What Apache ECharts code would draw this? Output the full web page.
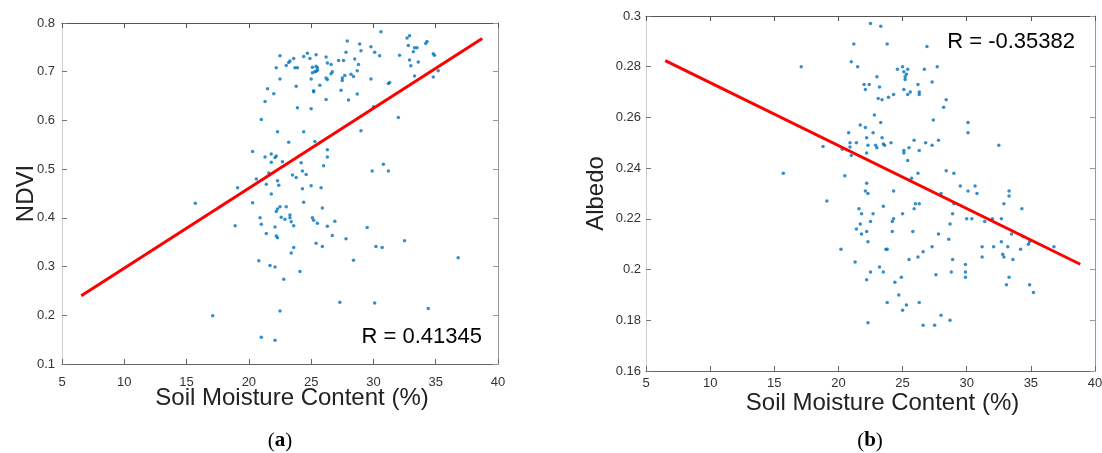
<!DOCTYPE html>
<html>
<head>
<meta charset="utf-8">
<title>Soil moisture vs NDVI / Albedo</title>
<script src="https://cdn.jsdelivr.net/npm/echarts@6/dist/echarts.min.js"></script>
<style>
  html, body { margin: 0; padding: 0; background: #fff; }
  #chart { width: 1102px; height: 453px; }
</style>
</head>
<body>
<div id="chart"></div>
<script>
// axis ranges [min, max, interval]
const soilRange = [5, 40, 5];
const ndviRange = [0.1, 0.8, 0.1];
const albedoRange = [0.16, 0.30, 0.02];

// (a) soil moisture (%) vs NDVI
const ndviPoints = [
  [22.5,0.733],[23.6,0.727],[23.3,0.722],[23.2,0.719],[23.0,0.713],[22.2,0.708],[23.7,0.708],[23.9,0.708],
  [24.4,0.731],[24.7,0.738],[24.9,0.727],[25.4,0.735],[26.2,0.730],[26.3,0.718],[26.6,0.715],[27.2,0.723],
  [25.1,0.709],[25.4,0.711],[25.5,0.708],[25.5,0.703],[25.3,0.700],[25.1,0.698],[25.4,0.701],[26.7,0.700],
  [26.6,0.696],[22.5,0.685],[25.0,0.685],[26.2,0.687],[26.3,0.684],[23.8,0.670],[25.7,0.672],[25.2,0.661],
  [25.2,0.659],[21.5,0.665],[22.0,0.655],[21.3,0.639],[26.2,0.643],[23.9,0.626],[25.0,0.624],[21.0,0.602],
  [22.3,0.577],[24.4,0.577],[23.2,0.555],[25.3,0.557],[26.3,0.540],[26.3,0.525],[20.3,0.536],[21.8,0.531],
  [21.3,0.525],[22.2,0.527],[22.1,0.524],[21.8,0.514],[22.7,0.515],[24.2,0.513],[26.0,0.507],[24.3,0.496],
  [24.6,0.489],[23.5,0.488],[23.8,0.483],[21.6,0.492],[20.6,0.480],[22.3,0.476],[21.4,0.469],[22.4,0.467],
  [25.0,0.466],[25.8,0.462],[24.3,0.460],[19.1,0.462],[21.8,0.449],[15.7,0.430],[20.3,0.431],[24.4,0.432],
  [22.5,0.423],[23.0,0.423],[22.3,0.418],[22.2,0.413],[25.9,0.420],[20.9,0.400],[22.6,0.401],[22.9,0.397],
  [23.3,0.406],[23.3,0.400],[23.4,0.392],[23.6,0.384],[25.1,0.400],[25.2,0.395],[25.5,0.389],[26.9,0.393],
  [26.3,0.383],[18.9,0.384],[21.0,0.387],[22.1,0.381],[21.4,0.368],[22.2,0.363],[22.3,0.359],[26.7,0.364],
  [25.4,0.348],[25.9,0.341],[23.6,0.339],[23.4,0.328],[20.8,0.312],[21.7,0.302],[22.1,0.299],[24.1,0.290],
  [22.8,0.274],[27.3,0.227],[22.5,0.209],[17.1,0.199],[21.0,0.155],[22.1,0.149],
  [30.6,0.782],[32.9,0.774],[32.7,0.769],[27.9,0.763],[28.9,0.757],[29.8,0.751],[32.8,0.754],[33.3,0.749],
  [33.5,0.749],[34.3,0.762],[34.2,0.758],[27.8,0.740],[29.0,0.743],[30.1,0.740],[30.5,0.733],[32.1,0.734],
  [33.2,0.741],[34.8,0.737],[34.9,0.734],[27.6,0.723],[28.5,0.726],[28.8,0.715],[28.7,0.702],[28.2,0.695],
  [28.4,0.690],[27.7,0.692],[27.5,0.687],[27.5,0.682],[29.8,0.685],[31.3,0.678],[31.2,0.676],[33.3,0.691],
  [32.9,0.724],[33.0,0.712],[33.6,0.720],[34.8,0.689],[35.2,0.702],[27.4,0.662],[28.0,0.642],[28.7,0.654],
  [30.0,0.628],[32.0,0.606],[29.0,0.579],[30.8,0.510],[29.9,0.496],[31.2,0.496],[29.5,0.380],[27.8,0.357],
  [30.2,0.341],[30.7,0.339],[32.5,0.353],[28.4,0.313],[36.8,0.318],[30.1,0.225],[34.4,0.214]
];
const ndviFit = [[6.55, 0.240], [38.73, 0.768]];
const ndviR = 'R = 0.41345';

// (b) soil moisture (%) vs albedo
const albedoPoints = [
  [22.5,0.297],[23.3,0.296],[21.2,0.289],[23.8,0.289],[17.1,0.280],[21.0,0.282],[21.5,0.280],[23.0,0.276],
  [22.0,0.273],[22.4,0.273],[22.1,0.271],[23.2,0.272],[23.9,0.268],[23.1,0.2675],[23.4,0.267],[22.8,0.261],
  [23.3,0.258],[21.7,0.257],[22.1,0.256],[20.8,0.254],[22.7,0.254],[22.2,0.252],[23.4,0.252],[20.9,0.250],
  [21.4,0.250],[22.3,0.249],[23.5,0.2495],[22.9,0.249],[23.6,0.249],[23.0,0.248],[18.8,0.2485],[20.3,0.2475],
  [20.9,0.2483],[22.2,0.246],[21.0,0.245],[15.7,0.238],[20.5,0.237],[22.2,0.234],[22.1,0.231],[22.3,0.230],
  [19.1,0.227],[21.6,0.224],[23.5,0.225],[21.8,0.222],[22.7,0.222],[22.5,0.219],[21.7,0.218],[21.4,0.216],
  [22.2,0.215],[21.8,0.214],[22.3,0.211],[23.7,0.208],[23.8,0.208],[20.2,0.208],[21.3,0.203],[23.2,0.201],
  [22.5,0.199],[23.5,0.199],[22.2,0.196],[23.8,0.187],[22.3,0.179],
  [26.9,0.288],[24.6,0.279],[25.0,0.280],[25.1,0.278],[25.4,0.279],[25.3,0.277],[25.2,0.276],[25.2,0.275],
  [26.7,0.279],[27.7,0.280],[24.3,0.269],[25.1,0.271],[25.4,0.269],[25.6,0.270],[26.2,0.273],[26.3,0.270],
  [26.3,0.269],[27.3,0.274],[28.4,0.267],[28.2,0.264],[27.4,0.259],[30.1,0.258],[30.1,0.254],[24.1,0.250],
  [25.9,0.251],[25.5,0.248],[25.1,0.247],[25.1,0.246],[26.3,0.247],[26.8,0.250],[27.3,0.249],[27.8,0.251],
  [32.5,0.249],[25.4,0.243],[24.3,0.231],[25.7,0.236],[26.2,0.238],[28.4,0.239],[29.0,0.238],[29.5,0.233],
  [30.65,0.233],[30.1,0.231],[30.8,0.230],[28.0,0.230],[33.3,0.231],[33.3,0.229],[32.9,0.226],[34.3,0.224],
  [26.0,0.226],[25.9,0.224],[26.3,0.226],[29.0,0.226],[28.9,0.222],[25.0,0.222],[24.3,0.220],[24.2,0.219],
  [30.0,0.220],[30.4,0.220],[31.4,0.219],[32.0,0.220],[32.7,0.220],[28.7,0.218],[25.8,0.215],[24.2,0.215],
  [27.8,0.214],[28.6,0.212],[33.5,0.214],[34.4,0.213],[34.9,0.211],[34.8,0.210],[32.7,0.211],[33.2,0.209],
  [34.2,0.208],[32.1,0.209],[31.2,0.209],[27.3,0.209],[26.6,0.207],[26.2,0.205],[25.5,0.204],[32.8,0.206],
  [32.9,0.205],[33.6,0.204],[31.2,0.205],[28.9,0.204],[29.9,0.202],[29.9,0.199],[29.9,0.197],[28.8,0.199],
  [27.6,0.198],[24.9,0.197],[24.4,0.195],[33.3,0.197],[33.1,0.194],[34.9,0.194],[35.2,0.191],[24.7,0.190],
  [25.3,0.186],[25.0,0.184],[26.3,0.187],[28.0,0.182],[28.7,0.180],[26.6,0.178],[27.5,0.178],[36.8,0.209]
];
const albedoFit = [[6.5, 0.2824], [38.85, 0.2021]];
const albedoR = 'R = -0.35382';

const SANS = '"Liberation Sans", Arial, sans-serif';
const SERIF = '"Liberation Serif", "DejaVu Serif", serif';
const DOT = '#0072BD';
const FIT = '#ff0000';

function boxAxis(gridIndex, range, position, lineColor, extra) {
  return Object.assign({
    gridIndex: gridIndex,
    type: 'value',
    position: position,
    min: range[0],
    max: range[1],
    interval: range[2],
    splitLine: { show: false },
    axisLine: { show: true, onZero: false, lineStyle: { color: lineColor, width: 1 } },
    axisTick: { show: true, inside: true, length: 5, lineStyle: { color: lineColor } },
    axisLabel: { show: false }
  }, extra || {});
}

function tickLabels(margin) {
  return { show: true, color: '#333', fontSize: 13, fontFamily: SANS, margin: margin };
}

function soilAxes(gridIndex, labelMargin, nameGap) {
  return [
    boxAxis(gridIndex, soilRange, 'bottom', '#666', {
      axisLabel: tickLabels(labelMargin),
      name: 'Soil Moisture Content (%)',
      nameLocation: 'middle',
      nameGap: nameGap,
      nameMoveOverlap: false,
      nameTextStyle: { color: '#222', fontSize: 24, fontFamily: SANS, padding: [0, 0, 0, 24] }
    }),
    boxAxis(gridIndex, soilRange, 'top', '#555')
  ];
}

function valueAxes(gridIndex, range, name, nameGap, labelMargin) {
  return [
    boxAxis(gridIndex, range, 'left', '#cfcfcf', {
      axisTick: { show: true, inside: true, length: 5, lineStyle: { color: '#777' } },
      axisLabel: tickLabels(labelMargin),
      name: name,
      nameLocation: 'middle',
      nameGap: nameGap,
      nameMoveOverlap: false,
      nameTextStyle: { color: '#222', fontSize: 24, fontFamily: SANS }
    }),
    boxAxis(gridIndex, range, 'right', '#999')
  ];
}

function panelSeries(axisIndex, points, fit) {
  return [{
    type: 'scatter',
    xAxisIndex: axisIndex,
    yAxisIndex: axisIndex,
    data: points,
    symbolSize: 3.5,
    itemStyle: { color: DOT },
    silent: true
  }, {
    type: 'line',
    xAxisIndex: axisIndex,
    yAxisIndex: axisIndex,
    data: fit,
    symbol: 'none',
    lineStyle: { color: FIT, width: 3 },
    silent: true
  }];
}

function label(text, x, y, align) {
  return {
    type: 'text', x: x, y: y, silent: true,
    style: { text: text, fill: '#000', fontSize: 22, fontFamily: SANS, align: align, verticalAlign: 'middle' }
  };
}

function subCaption(letter, x, y) {
  return {
    type: 'text', x: x, y: y, silent: true,
    style: {
      text: '({b|' + letter + '})',
      fill: '#000', fontSize: 21, fontFamily: SERIF, align: 'center', verticalAlign: 'middle',
      rich: { b: { fontSize: 21, fontFamily: SERIF, fontWeight: 'bold', fill: '#000' } }
    }
  };
}

const chart = echarts.init(document.getElementById('chart'), null, { renderer: 'canvas' });
chart.setOption({
  animation: false,
  backgroundColor: '#fff',
  grid: [
    { left: 62, top: 23, width: 436, height: 341, containLabel: false, outerBoundsMode: 'none' },
    { left: 646, top: 16, width: 449, height: 355, containLabel: false, outerBoundsMode: 'none' }
  ],
  xAxis: soilAxes(0, 12, 22).concat(soilAxes(1, 6, 20)),
  yAxis: valueAxes(0, ndviRange, 'NDVI', 24, 7).concat(valueAxes(1, albedoRange, 'Albedo', 38, 5)),
  series: panelSeries(0, ndviPoints, ndviFit).concat(panelSeries(2, albedoPoints, albedoFit)),
  graphic: [
    label(ndviR, 482, 337, 'right'),
    label(albedoR, 1075, 42, 'right'),
    subCaption('a', 280, 441),
    subCaption('b', 870, 441)
  ]
});
</script>
</body>
</html>
